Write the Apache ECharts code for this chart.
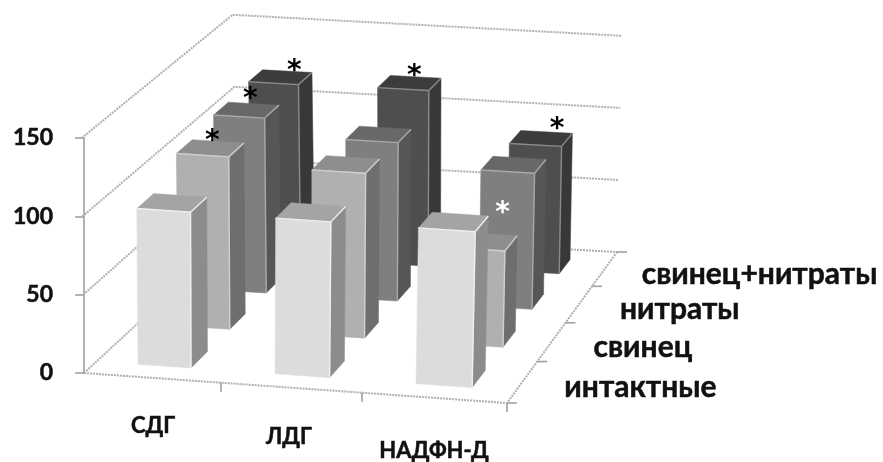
<!DOCTYPE html>
<html><head><meta charset="utf-8">
<style>html,body{margin:0;padding:0;background:#fff}#c{width:883px;height:462px;filter:blur(0.6px)}</style>
<script src="https://cdn.jsdelivr.net/npm/echarts@6/dist/echarts.min.js"></script>
</head><body><div id="c"></div>
<script>
// ---- data ----
const categories = ['СДГ', 'ЛДГ', 'НАДФН-Д'];
const rowNames = ['интактные', 'свинец', 'нитраты', 'свинец+нитраты'];
const intactValues = [100, 100, 100];
const leadValues = [113, 108, 63];
const nitrateValues = [117, 106, 91];
const leadNitrateValues = [119, 120, 87];
const valueTicks = [0, 50, 100, 150];
// asterisks: row index, category index, colour
const starRows = [1, 2, 3, 3, 3, 2];
const starCats = [0, 0, 0, 1, 2, 2];
const starColors = ['#000', '#000', '#000', '#000', '#000', '#fff'];

// ---- layout / style ----
const FONT = 'Lato, "Open Sans", sans-serif';
const faceColors = [
  { front: '#dcdcdc', top: '#a4a4a4', side: '#8c8c8c', edge: '#efefef' },
  { front: '#b0b0b0', top: '#8e8e8e', side: '#6e6e6e', edge: '#cfcfcf' },
  { front: '#7f7f7f', top: '#686868', side: '#565656', edge: '#a8a8a8' },
  { front: '#4e4e4e', top: '#3c3c3c', side: '#383838', edge: '#8a8a8a' }
];
const rowValues = [intactValues, leadValues, nitrateValues, leadNitrateValues];
const WALL = '#b0b0b0';
const WALL_DASH = [2, 1];
// floor corners: front-left, front-right, back-right, back-left
const Q = [[84, 373], [507, 403], [617, 252], [238, 231]];
const H = (function () {
  const [p0, p1, p2, p3] = Q;
  const sx = p0[0] - p1[0] + p2[0] - p3[0], sy = p0[1] - p1[1] + p2[1] - p3[1];
  const dx1 = p1[0] - p2[0], dx2 = p3[0] - p2[0], dy1 = p1[1] - p2[1], dy2 = p3[1] - p2[1];
  const det = dx1 * dy2 - dx2 * dy1;
  const g = (sx * dy2 - dx2 * sy) / det, h = (dx1 * sy - sx * dy1) / det;
  return { a: p1[0] - p0[0] + g * p1[0], b: p3[0] - p0[0] + h * p3[0], c: p0[0],
           d: p1[1] - p0[1] + g * p1[1], e: p3[1] - p0[1] + h * p3[1], f: p0[1], g, h };
})();
function floorPt(u, v) {
  const w = H.g * u + H.h * v + 1;
  return [(H.a * u + H.b * v + H.c) / w, (H.d * u + H.e * v + H.f) / w];
}
const BACK_SCALE = 0.92;
// lift a floor point by a pixel height (taken from the y axis) with depth foreshortening and slight lean
function lift(u, v, px) {
  const p = floorPt(u, v);
  const h = px * (1 - (1 - BACK_SCALE) * v);
  const lean = -0.01 - 0.015 * v * (1 - u) + 0.033 * u;
  return [p[0] + lean * h, p[1] - h];
}
const GRID = { left: 84, top: 138, width: 423, height: 235 };
const uOf = x => (x - GRID.left) / GRID.width;
const rowV = r => (r + 0.5) / 4;
const HALF_U = 0.065, HALF_V = 0.052, U_SHIFT = 0.001;
function barBox(api, cat, value) {
  const x = api.coord([cat, 0])[0];
  const px = api.coord([cat, 0])[1] - api.coord([cat, value])[1];
  return { u: uOf(x) + U_SHIFT, px };
}
function barRenderer(row) {
  const c = faceColors[row];
  const v0 = rowV(row) - HALF_V, v1 = rowV(row) + HALF_V;
  return function (params, api) {
    const b = barBox(api, api.value(0), api.value(1));
    const ul = b.u - HALF_U, ur = b.u + HALF_U;
    const fbl = lift(ul, v0, 0), fbr = lift(ur, v0, 0), bbr = lift(ur, v1, 0);
    const ftl = lift(ul, v0, b.px), ftr = lift(ur, v0, b.px), btr = lift(ur, v1, b.px), btl = lift(ul, v1, b.px);
    const poly = (pts, fill) => ({ type: 'polygon', shape: { points: pts }, style: { fill, stroke: fill, lineWidth: 0.5 } });
    const line = (a, d) => ({ type: 'line', shape: { x1: a[0], y1: a[1], x2: d[0], y2: d[1] }, style: { stroke: c.edge, lineWidth: 1.4 } });
    return { type: 'group', children: [
      poly([fbr, bbr, btr, ftr], c.side),
      poly([ftl, ftr, btr, btl], c.top),
      poly([fbl, fbr, ftr, ftl], c.front),
      line(ftl, ftr), line(ftr, btr), line(ftr, fbr)
    ] };
  };
}
function renderWalls(params, api) {
  const px = api.coord([0, 0])[1] - api.coord([0, api.value(1)])[1];
  const a = lift(0, 0, px), d = lift(0, 1, px), c = lift(1, 1, px);
  return { type: 'polyline', shape: { points: [a, d, c] }, style: { fill: 'none', stroke: WALL, lineWidth: 2, lineDash: WALL_DASH } };
}
function renderFloor(params, api) {
  const A = floorPt(0, 0), B = floorPt(1, 0), C = floorPt(1, 1);
  const kids = [{ type: 'polyline', shape: { points: [A, B, C] }, style: { fill: 'none', stroke: WALL, lineWidth: 2, lineDash: WALL_DASH } }];
  const tickStyle = { stroke: '#a0a0a0', lineWidth: 1.6 };
  for (let i = 1; i <= categories.length; i++) {
    const p = floorPt(i / categories.length, 0);
    kids.push({ type: 'line', shape: { x1: p[0], y1: p[1], x2: p[0], y2: p[1] + 9 }, style: tickStyle });
  }
  for (let r = 0; r <= rowNames.length; r++) {
    const p = floorPt(1, r / rowNames.length);
    kids.push({ type: 'line', shape: { x1: p[0], y1: p[1], x2: p[0] + 10, y2: p[1] }, style: tickStyle });
  }
  return { type: 'group', children: kids };
}
const catLabelNudge = [[1, 48], [-2, 49], [0, 53]];
function renderCatLabel(params, api) {
  const i = api.value(0);
  const p = floorPt(uOf(api.coord([i, 0])[0]), 0);
  return { type: 'text', style: { text: categories[i], x: p[0] + catLabelNudge[i][0], y: p[1] + catLabelNudge[i][1],
    fill: '#111', stroke: '#111', lineWidth: 0.5, font: 'bold 22px ' + FONT, align: 'center', verticalAlign: 'middle' } };
}
const ROW_LABEL_DX = [42, 42, 41, 37];
function renderRowLabel(params, api) {
  const r = api.value(0);
  const p = floorPt(1, rowV(r));
  return { type: 'text', style: { text: rowNames[r], x: p[0] + ROW_LABEL_DX[r], y: p[1] + 5,
    fill: '#111', stroke: '#111', lineWidth: 0.5, font: 'bold 30px ' + FONT, align: 'left', verticalAlign: 'middle' } };
}
const starNudge = [[2, -12], [4, -16], [14, -11], [5, -12], [16, -15], [-11, 43]];
function renderStar(params, api) {
  const i = params.dataIndex, r = starRows[i], cat = starCats[i];
  const b = barBox(api, cat, rowValues[r][cat]);
  const p = lift(b.u, rowV(r), b.px);
  return { type: 'text', style: { text: '*', x: p[0] + starNudge[i][0], y: p[1] + starNudge[i][1] + 6,
    fill: starColors[i], font: 'bold 28px "DejaVu Sans"', align: 'center', verticalAlign: 'middle' } };
}
const chart = echarts.init(document.getElementById('c'), null, { renderer: 'canvas' });
const barSeries = [3, 2, 1, 0].map(r => ({
  type: 'custom', name: rowNames[r], z: 5 + (3 - r), silent: true, clip: false,
  renderItem: barRenderer(r), encode: { x: 0, y: 1 },
  data: rowValues[r].map((val, i) => [i, val])
}));
chart.setOption({
  animation: false,
  backgroundColor: '#fff',
  grid: { left: GRID.left, top: GRID.top, width: GRID.width, height: GRID.height },
  xAxis: { type: 'category', data: categories, show: false, boundaryGap: true },
  yAxis: {
    type: 'value', min: 0, max: 150, interval: 50,
    axisLine: { show: true, lineStyle: { color: WALL, width: 2, type: WALL_DASH } },
    axisTick: { show: true, length: 9, lineStyle: { color: '#a0a0a0', width: 1.6 } },
    splitLine: { show: false },
    axisLabel: { color: '#111', fontFamily: FONT, fontWeight: 'bold', fontSize: 23, margin: 31, textBorderColor: '#111', textBorderWidth: 0.5 }
  },
  series: [
    { type: 'custom', z: 1, silent: true, clip: false, renderItem: renderWalls, encode: { x: 0, y: 1 }, data: valueTicks.map(t => [0, t]) },
    { type: 'custom', z: 2, silent: true, clip: false, renderItem: renderFloor, encode: { x: 0, y: 1 }, data: [[0, 0]] },
    ...barSeries,
    { type: 'custom', z: 20, silent: true, clip: false, renderItem: renderStar, encode: { x: 0, y: 1 }, data: starRows.map((r, i) => [starCats[i], rowValues[r][starCats[i]]]) },
    { type: 'custom', z: 21, silent: true, clip: false, renderItem: renderCatLabel, encode: { x: 0, y: 1 }, data: categories.map((c, i) => [i, 0]) },
    { type: 'custom', z: 21, silent: true, clip: false, renderItem: renderRowLabel, encode: { x: 0, y: 1 }, data: rowNames.map((n, i) => [i, 0]) }
  ]
});
</script></body></html>
